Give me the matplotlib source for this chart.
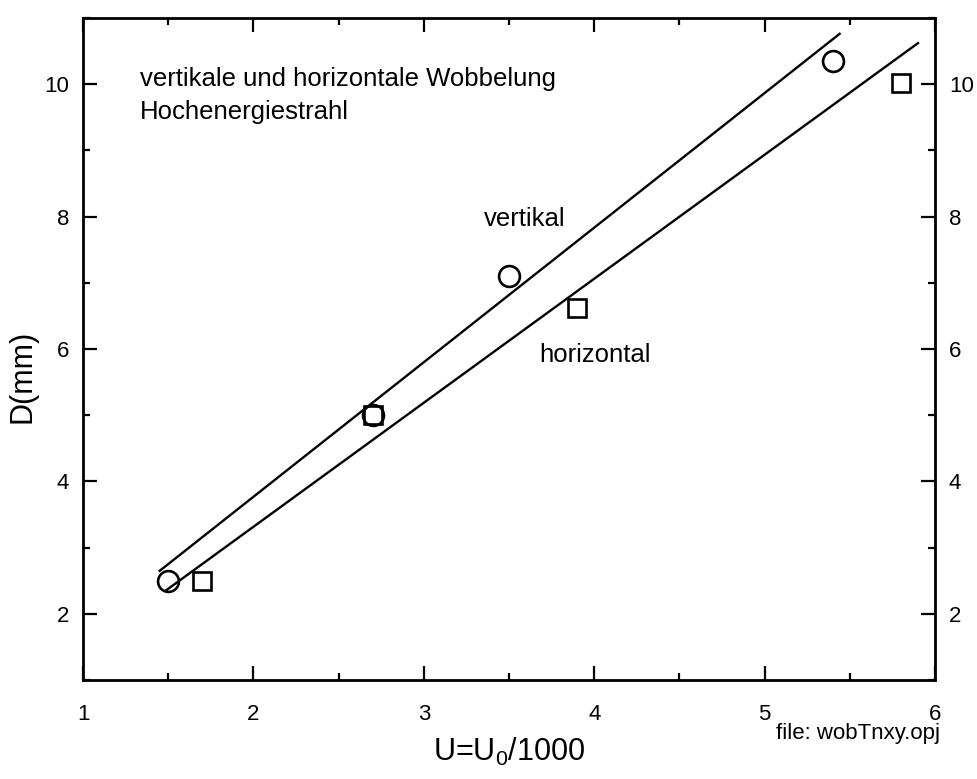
import matplotlib
matplotlib.use("Agg")
import matplotlib.pyplot as plt
from matplotlib.ticker import MultipleLocator

# measured points
u_vert = [1.5, 2.7, 3.5, 5.4]
d_vert = [2.5, 5.0, 7.1, 10.35]
u_hor = [1.7, 2.7, 3.9, 5.8]
d_hor = [2.5, 5.0, 6.62, 10.02]

# fit lines (end points)
fit_vert_u = [1.45, 5.44]
fit_vert_d = [2.65, 10.76]
fit_hor_u = [1.49, 5.90]
fit_hor_d = [2.36, 10.62]

plt.rcParams['font.family'] = ['Liberation Sans', 'DejaVu Sans']
plt.rcParams['mathtext.fontset'] = 'custom'
plt.rcParams['mathtext.rm'] = 'Liberation Sans'
plt.rcParams['xtick.labelsize'] = 16
plt.rcParams['ytick.labelsize'] = 16

fig = plt.figure(figsize=(9.78, 7.79), dpi=100)
ax = fig.add_axes([0.0849, 0.127, 0.8712, 0.850])

ax.plot(fit_vert_u, fit_vert_d, color='black', lw=1.7)
ax.plot(fit_hor_u, fit_hor_d, color='black', lw=1.7)
ax.plot(u_vert, d_vert, 'o', ms=15, mfc='none', mec='black', mew=1.9)
ax.plot(u_hor, d_hor, 's', ms=13, mfc='none', mec='black', mew=1.9)

ax.set_xlim(1, 6)
ax.set_ylim(1, 11)
ax.xaxis.set_major_locator(MultipleLocator(1))
ax.xaxis.set_minor_locator(MultipleLocator(0.5))
ax.yaxis.set_major_locator(MultipleLocator(2))
ax.yaxis.set_minor_locator(MultipleLocator(1))
ax.set_yticks([2, 4, 6, 8, 10])
ax.tick_params(which='both', direction='in', top=True, right=True,
               labelright=True, width=1.6)
ax.tick_params(which='major', length=10)
ax.tick_params(which='minor', length=5)
ax.tick_params(axis='y', which='both', pad=10)
ax.tick_params(axis='x', which='both', pad=17)
for s in ax.spines.values():
    s.set_linewidth(2)

ax.text(1.335, 9.97, 'vertikale und horizontale Wobbelung', fontsize=18.5,
        ha='left', va='baseline')
ax.text(1.335, 9.47, 'Hochenergiestrahl', fontsize=18.5, ha='left', va='baseline')
ax.text(3.35, 7.85, 'vertikal', fontsize=18.5, ha='left', va='baseline')
ax.text(3.68, 5.81, 'horizontal', fontsize=18.5, ha='left', va='baseline')

ax.set_xlabel(r'U=U$_0$/1000', fontsize=22, labelpad=8)
fig.text(23 / 978, 1 - 376 / 779, 'D(mm)', fontsize=22, rotation=90,
         ha='center', va='center')
fig.text(776 / 978, 1 - 739 / 779, 'file: wobTnxy.opj', fontsize=16,
         ha='left', va='baseline')

fig.savefig('out.png', dpi=100)
